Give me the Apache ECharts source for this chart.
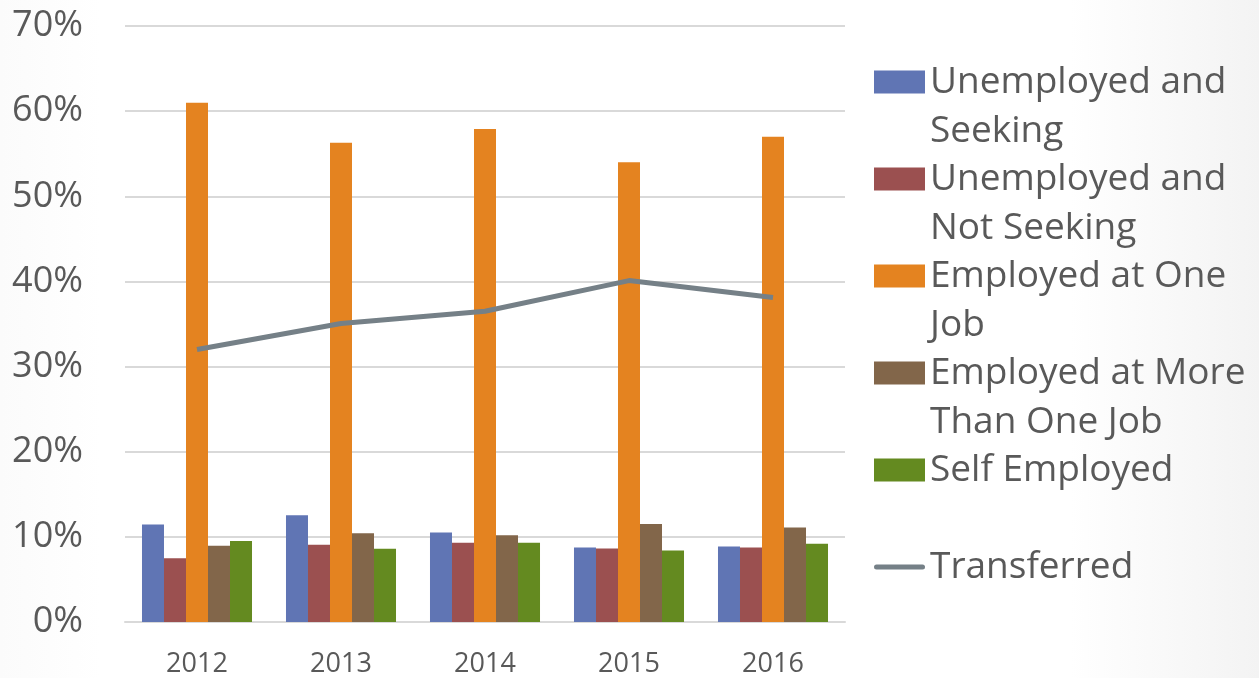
<!DOCTYPE html>
<html>
<head>
<meta charset="utf-8">
<script src="https://cdn.jsdelivr.net/npm/echarts@6/dist/echarts.min.js"></script>
<style>html,body{margin:0;padding:0;background:#fff}#c{width:1259px;height:678px}</style>
</head>
<body>
<div id="c"></div>
<script>
const categories = ['2012', '2013', '2014', '2015', '2016'];
const unemployedSeeking = [11.45, 12.55, 10.5, 8.75, 8.87];
const unemployedNotSeeking = [7.5, 9.06, 9.3, 8.64, 8.75];
const employedOne = [61.0, 56.3, 57.9, 54.0, 57.0];
const employedMore = [8.95, 10.43, 10.2, 11.5, 11.1];
const selfEmployed = [9.5, 8.6, 9.3, 8.4, 9.18];
const transferred = [32.0, 35.05, 36.5, 40.1, 38.1];
const yTicks = [0, 10, 20, 30, 40, 50, 60, 70];

const seriesNames = ['Unemployed and Seeking', 'Unemployed and Not Seeking', 'Employed at One Job', 'Employed at More Than One Job', 'Self Employed', 'Transferred'];
const legendLabels = {
  'Unemployed and Seeking': '\nUnemployed and\nSeeking',
  'Unemployed and Not Seeking': '\nUnemployed and\nNot Seeking',
  'Employed at One Job': '\nEmployed at One\nJob',
  'Employed at More Than One Job': '\nEmployed at More\nThan One Job',
  'Self Employed': '\nSelf Employed\n ',
  'Transferred': '\nTransferred\n '
};
const colors = ['#6075b4', '#9b5050', '#e48320', '#82664a', '#648a20', '#758087'];

const chart = echarts.init(document.getElementById('c'), null, {renderer: 'canvas'});
const barData = [unemployedSeeking, unemployedNotSeeking, employedOne, employedMore, selfEmployed];
const series = barData.map((d, i) => ({
  name: seriesNames[i], type: 'bar', data: d,
  barGap: '0%', barCategoryGap: '23.6%',
  itemStyle: {color: colors[i]}
}));
series.push({
  name: seriesNames[5], type: 'line', data: transferred,
  symbol: 'none', lineStyle: {color: colors[5], width: 5}, itemStyle: {color: colors[5]}, z: 5
});

chart.setOption({
  animation: false,
  backgroundColor: {
    type: 'linear', x: 0, y: 0, x2: 1, y2: 0,
    colorStops: [{offset: 0, color: '#fbfbfb'}, {offset: 0.08, color: '#ffffff'}, {offset: 0.85, color: '#ffffff'}, {offset: 1, color: '#f3f3f3'}]
  },
  textStyle: {fontFamily: 'Open Sans'},
  grid: {left: 125, right: 414, top: 26, bottom: 55, containLabel: false},
  legend: {
    orient: 'vertical', left: 874, top: 8.5, padding: 0,
    itemWidth: 51, itemHeight: 23, itemGap: -50,
    data: seriesNames.map((n, i) => i === 5 ? {name: n, icon: 'path://M2.5,0 L48.5,0 A2.5,2.5 0 0 1 48.5,5 L2.5,5 A2.5,2.5 0 0 1 2.5,0 Z'} : {name: n, icon: 'rect'}),
    formatter: n => legendLabels[n],
    textStyle: {fontFamily: 'Open Sans', fontSize: 37, color: '#595959', lineHeight: 49}
  },
  xAxis: {
    type: 'category', data: categories,
    axisLine: {show: true, lineStyle: {color: '#d9d9d9', width: 2}},
    axisTick: {show: false},
    axisLabel: {color: '#595959', fontSize: 27, margin: 29, fontFamily: 'Open Sans'}
  },
  yAxis: {
    type: 'value', min: 0, max: 70, interval: 10,
    axisLine: {show: false}, axisTick: {show: false},
    splitLine: {lineStyle: {color: '#d9d9d9', width: 2}},
    axisLabel: {color: '#595959', fontSize: 36, margin: 42, fontFamily: 'Open Sans',
      formatter: v => yTicks.includes(v) ? v + '%' : ''}
  },
  series: series
});
</script>
</body>
</html>
